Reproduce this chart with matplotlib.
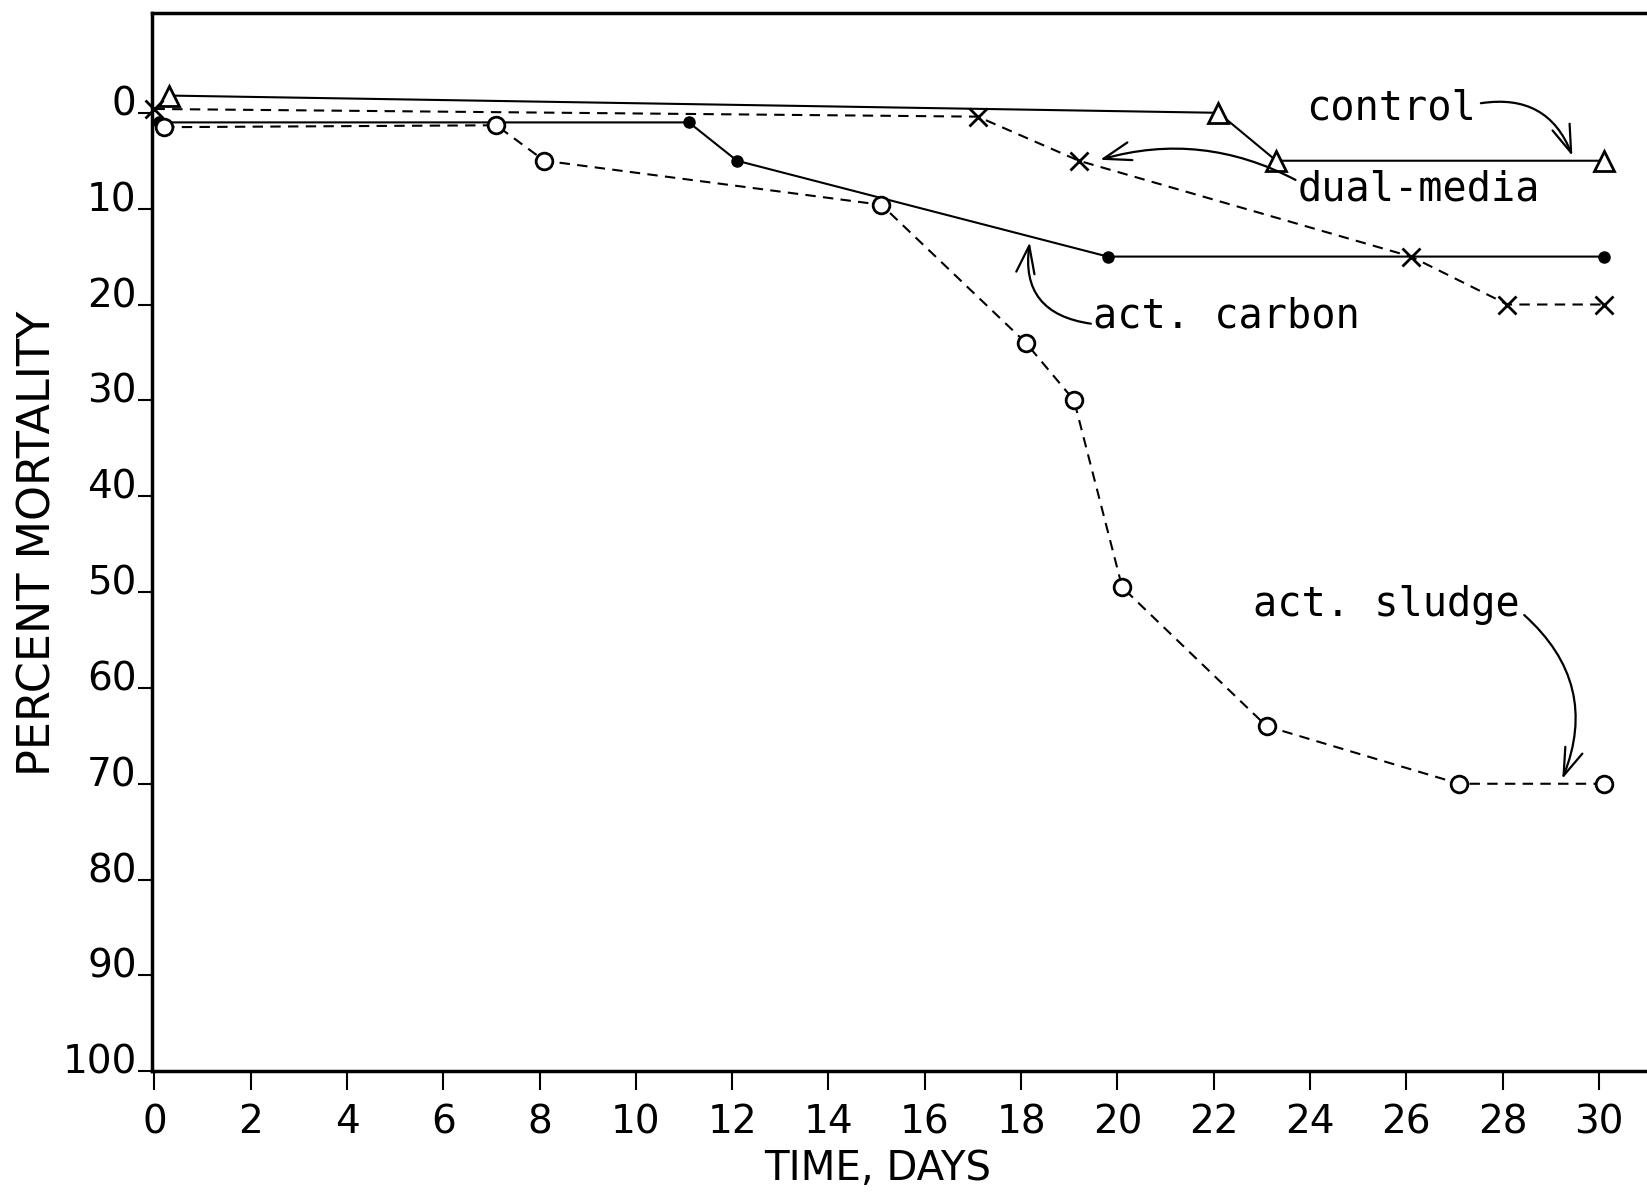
import matplotlib
matplotlib.use("Agg")
import matplotlib.pyplot as plt
import matplotlib.transforms as mtransforms

# percent mortality vs. time for the four effluents
control_days = [0.3, 22.1, 23.3, 30.1]
control_mort = [-1.8, 0.0, 5.0, 5.0]

dual_days = [0.0, 17.1, 19.2, 26.1, 28.1, 30.1]
dual_mort = [-0.4, 0.4, 5.0, 15.0, 20.0, 20.0]

carbon_days = [0.1, 11.1, 12.1, 19.8, 30.1]
carbon_mort = [1.0, 1.0, 5.0, 15.0, 15.0]

sludge_days = [0.2, 7.1, 8.1, 15.1, 18.1, 19.1, 20.1, 23.1, 27.1, 30.1]
sludge_mort = [1.5, 1.3, 5.0, 9.6, 24.0, 30.0, 49.5, 64.0, 70.0, 70.0]

x_ticks = list(range(0, 31, 2))
y_ticks = list(range(0, 101, 10))

plt.rcParams['font.family'] = ['DejaVu Sans']

fig = plt.figure(figsize=(16.47, 11.93), dpi=100)
ax = fig.add_axes([0.0923, 0.102, 0.9077, 0.887])

lw = 1.5
ax.plot(control_days, control_mort, '-', color='black', lw=lw,
        marker='^', markersize=14, markerfacecolor='white',
        markeredgewidth=2, clip_on=False)
ax.plot(dual_days, dual_mort, color='black', lw=lw, dashes=(5, 3.5),
        marker='x', markersize=13, markeredgewidth=2, clip_on=False)
ax.plot(carbon_days, carbon_mort, '-', color='black', lw=lw,
        marker='o', markersize=8, clip_on=False)
ax.plot(sludge_days, sludge_mort, color='black', lw=lw, dashes=(5, 3.5),
        marker='o', markersize=12, markerfacecolor='white',
        markeredgewidth=2, clip_on=False)

# labels with curved pointers (lettering-guide style, evenly spaced)
fs = 28
note = dict(fontsize=29, family='DejaVu Sans Mono', va='center')
ax.text(27.45, -0.5, 'control', ha='right', **note)
ax.text(23.75, 8.0, 'dual-media', ha='left', **note)
ax.text(19.5, 21.2, 'act. carbon', ha='left', **note)
ax.text(28.35, 51.4, 'act. sludge', ha='right', **note)

arrow = dict(arrowstyle='->,head_length=0.9,head_width=0.3', color='black',
             lw=1.6, mutation_scale=22, shrinkA=0, shrinkB=0)
ax.annotate('', xy=(29.45, 4.5), xytext=(27.55, -1.0),
            arrowprops=dict(arrow, connectionstyle='arc3,rad=-0.4'))
ax.annotate('', xy=(19.64, 4.9), xytext=(23.7, 7.0),
            arrowprops=dict(arrow, connectionstyle='arc3,rad=0.2'))
ax.annotate('', xy=(18.18, 13.5), xytext=(19.45, 22.0),
            arrowprops=dict(arrow, connectionstyle='arc3,rad=-0.5'))
ax.annotate('', xy=(29.24, 69.5), xytext=(28.45, 52.4),
            arrowprops=dict(arrow, connectionstyle='arc3,rad=-0.35'))

ax.set_xlim(-0.05, 31.0)
ax.set_ylim(100, -10.4)
ax.set_xticks(x_ticks)
ax.set_yticks(y_ticks)
ax.tick_params(axis='x', direction='out', length=14, width=1.5, pad=9, labelsize=fs)
ax.tick_params(axis='y', direction='out', length=10, width=1.5, pad=1, labelsize=fs)

# y labels rest on their ticks
lift = mtransforms.ScaledTranslation(0, 9 / 72, fig.dpi_scale_trans)
for lab in ax.get_yticklabels():
    lab.set_transform(lab.get_transform() + lift)

for side in ('left', 'bottom', 'top'):
    ax.spines[side].set_linewidth(2.5)
ax.spines['right'].set_visible(False)

ax.set_xlabel('TIME, DAYS', fontsize=29)
ax.xaxis.set_label_coords(0.4856, -0.0735)
ax.set_ylabel('PERCENT MORTALITY', fontsize=32)
ax.yaxis.set_label_coords(-0.062, 0.499)

fig.savefig('out.png', dpi=100)
